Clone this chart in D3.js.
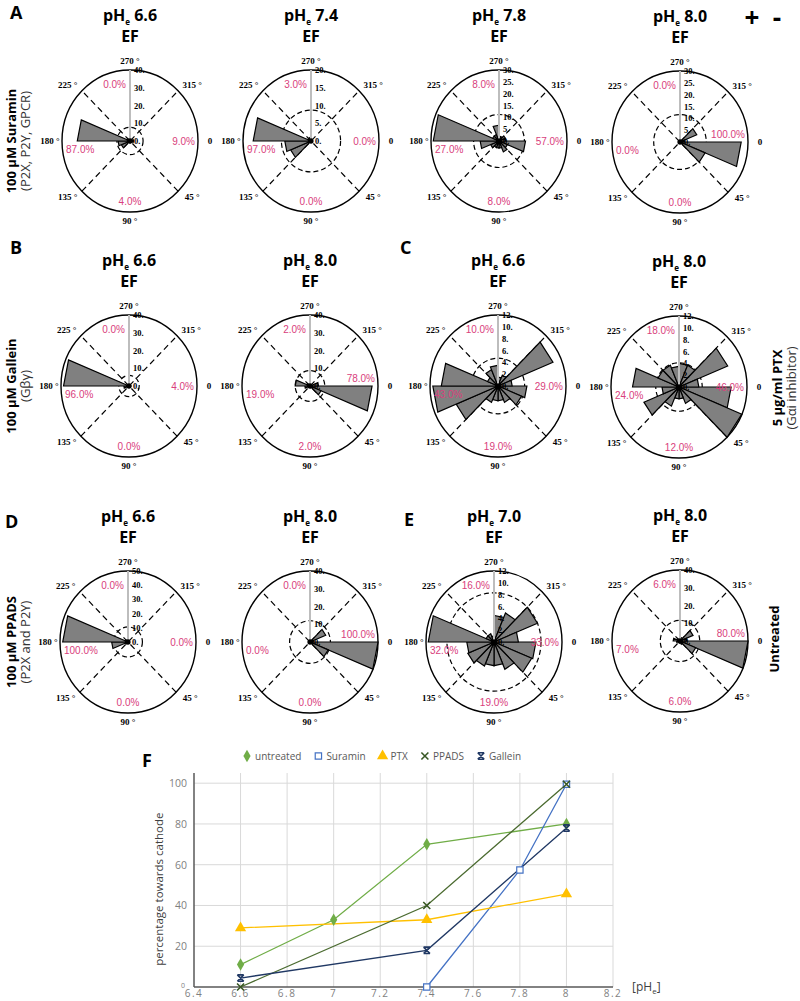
<!DOCTYPE html>
<html>
<head>
<meta charset="utf-8">
<script src="https://cdn.jsdelivr.net/npm/d3@7"></script>
<style>
  body { margin: 0; background: #fff; }
  svg { display: block; }
</style>
</head>
<body>
<svg id="fig" width="800" height="1001"></svg>
<script>
// ----- Rose diagrams (16 bins of 22.5°, bin k starts at k*22.5°, 0° = right, 90° = down) -----
const rosePh    = ["6.6", "7.4", "7.8", "8.0", "6.6", "8.0", "6.6", "8.0", "6.6", "8.0", "7.0", "8.0"];
const roseMax   = [40, 20, 30, 30, 40, 40, 12, 12, 50, 40, 12, 40];
const roseStep  = [10, 5, 5, 5, 10, 10, 2, 2, 10, 10, 2, 10];
const roseRef   = [7.7, 8.7, 11.2, 11.6, 6, 8.7, 4.7, 4.1, 10.6, 12, 8.3, 11.6];   // dashed ring
const roseCounts = [
  [2, 1, 1, 0, 1, 0, 5.5, 7, 31, 2, 0, 0, 0, 0, 0, 2],
  [0, 0, 0, 0, 0, 0, 6.5, 7.7, 17, 1, 1, 0, 0, 0, 0, 0],
  [11.7, 4, 5, 3, 3, 3, 4, 8.3, 29, 3, 3, 6.7, 2, 2, 3, 3],
  [27, 12, 0, 0, 0, 0, 0, 0, 0, 0, 0, 0, 0, 0, 8, 2],
  [1, 0, 0, 0, 0, 0, 1, 3, 38.5, 1, 0, 0, 0, 0, 0, 1],
  [36.5, 7, 1, 0, 0, 0, 1, 3, 8.7, 2, 0, 0, 1, 0, 0, 5],
  [5.1, 4.5, 3, 2.5, 2.5, 3, 8, 11.5, 10, 2, 3, 3.5, 1.5, 2, 10.5, 2.5],
  [9.2, 12, 3, 2, 2, 3.5, 6.7, 3, 8.2, 4, 4, 3.5, 4, 4, 9.3, 3.5],
  [0, 0, 0, 0, 0, 1, 2, 12, 48, 2, 0, 0, 0, 0, 0, 0],
  [40, 11.6, 0, 0, 0, 0, 0, 0, 0, 0, 0, 0, 0, 0, 10, 2],
  [7.4, 7.2, 5, 4, 4, 4.4, 5, 4.8, 11.6, 1.5, 1.5, 1, 4.5, 5.3, 8.3, 4.3],
  [40, 10, 2, 1, 1, 1, 1, 2, 4, 2, 1, 1, 2, 1, 8.3, 4]
];
// quadrant percentages: top, right, bottom, left
const rosePct = [
  ["0.0%", "9.0%", "4.0%", "87.0%"],
  ["3.0%", "0.0%", "0.0%", "97.0%"],
  ["8.0%", "57.0%", "8.0%", "27.0%"],
  ["0.0%", "100.0%", "0.0%", "0.0%"],
  ["0.0%", "4.0%", "0.0%", "96.0%"],
  ["2.0%", "78.0%", "2.0%", "19.0%"],
  ["10.0%", "29.0%", "19.0%", "43.0%"],
  ["18.0%", "46.0%", "12.0%", "24.0%"],
  ["0.0%", "0.0%", "0.0%", "100.0%"],
  ["0.0%", "100.0%", "0.0%", "0.0%"],
  ["16.0%", "33.0%", "19.0%", "32.0%"],
  ["6.0%", "80.0%", "6.0%", "7.0%"]
];
const degAngles = [0, 45, 90, 135, 180, 225, 270, 315];
const degLabels = ["0", "45 °", "90 °", "135 °", "180 °", "225 °", "270 °", "315 °"];

// ----- Panel F line chart -----
const phTicks = [6.4, 6.6, 6.8, 7, 7.2, 7.4, 7.6, 7.8, 8, 8.2];
const phTickLabels = ["6.4", "6.6", "6.8", "7", "7.2", "7.4", "7.6", "7.8", "8", "8.2"];
const pctTicks = [0, 20, 40, 60, 80, 100];
const seriesNames = ["untreated", "Suramin", "PTX", "PPADS", "Gallein"];
const untreatedPh = [6.6, 7.0, 7.4, 8.0], untreatedVal = [11, 33, 70, 80];
const suraminPh   = [7.4, 7.8, 8.0],      suraminVal   = [0, 57.4, 99.5];
const ptxPh       = [6.6, 7.4, 8.0],      ptxVal       = [29, 33, 45.6];
const ppadsPh     = [6.6, 7.4, 8.0],      ppadsVal     = [0, 40, 99.5];
const galleinPh   = [6.6, 7.4, 8.0],      galleinVal   = [4.4, 18, 78];

// ----- layout -----
const RX = 68, RY = 71;
const roseLayout = [
  [130, 141], [311, 141], [499, 141], [680, 142],
  [129, 386], [310, 386], [498, 386], [679, 387],
  [128, 642], [310, 642], [494, 642], [680, 641]
];
const SERIF = "'Liberation Serif', 'DejaVu Serif', serif";
const SANS = "'Open Sans', 'Liberation Sans', sans-serif";
const PINK = "#d9407c";

const svg = d3.select("#fig");

function drawRose(i) {
  const [cx, cy] = roseLayout[i];
  const g = svg.append("g").attr("transform", `translate(${cx},${cy})`);
  const geo = g.append("g").attr("transform", `scale(1,${RY / RX})`);
  const r = d3.scaleLinear().domain([0, roseMax[i]]).range([0, RX]);
  const ang = d3.scaleLinear().domain([0, 360]).range([Math.PI / 2, Math.PI / 2 + 2 * Math.PI]);
  const rad = (deg, v) => d3.pointRadial(ang(deg), r(v));

  geo.append("circle").attr("r", RX).attr("fill", "#fff")
    .attr("stroke", "#000").attr("stroke-width", 1.4)
    .attr("vector-effect", "non-scaling-stroke");

  // dashed diagonals
  [45, 135].forEach(a => {
    const p1 = rad(a, roseMax[i]), p2 = rad(a + 180, roseMax[i]);
    geo.append("line")
      .attr("x1", p1[0]).attr("y1", p1[1]).attr("x2", p2[0]).attr("y2", p2[1])
      .attr("stroke", "#000").attr("stroke-width", 1.2).attr("stroke-dasharray", "6,4")
      .attr("vector-effect", "non-scaling-stroke");
  });
  geo.append("circle").attr("r", r(roseRef[i])).attr("fill", "none")
    .attr("stroke", "#000").attr("stroke-width", 1.2).attr("stroke-dasharray", "5,3")
    .attr("vector-effect", "non-scaling-stroke");

  // wedges (MATLAB-style triangles)
  const wedge = d3.lineRadial()
    .angle(d => ang(d[0])).radius(d => r(d[1]))
    .curve(d3.curveLinearClosed);
  roseCounts[i].forEach((c, k) => {
    if (c <= 0) return;
    geo.append("path")
      .attr("d", wedge([[0, 0], [k * 22.5, c], [(k + 1) * 22.5, c]]))
      .attr("fill", "#808080").attr("stroke", "#000").attr("stroke-width", 1.2)
      .attr("stroke-linejoin", "miter")
      .attr("vector-effect", "non-scaling-stroke");
  });

  // radial axis toward 270°
  const top = rad(270, roseMax[i]);
  geo.append("line").attr("x1", 0).attr("y1", 0).attr("x2", top[0]).attr("y2", top[1])
    .attr("stroke", "#bdbdbd").attr("stroke-width", 2)
    .attr("vector-effect", "non-scaling-stroke");
  geo.append("circle").attr("r", 2.6).attr("fill", "#000");

  d3.range(0, roseMax[i] + 0.001, roseStep[i]).forEach(v => {
    g.append("text")
      .attr("x", 4).attr("y", -r(v) * RY / RX)
      .attr("dominant-baseline", "central")
      .attr("font-family", SERIF).attr("font-weight", "bold").attr("font-size", 8.5)
      .text(v + ".");
  });

  // degree labels
  degAngles.forEach((a, j) => {
    const diag = a % 90 !== 0;
    const t = a * Math.PI / 180;
    g.append("text")
      .attr("x", Math.cos(t) * (RX + (diag ? 20 : 12)))
      .attr("y", Math.sin(t) * (RY + (diag ? 8 : 9)))
      .attr("text-anchor", "middle").attr("dominant-baseline", "central")
      .attr("font-family", SERIF).attr("font-weight", "bold").attr("font-size", 9)
      .attr("fill", "#000")
      .text(degLabels[j]);
  });

  // quadrant percentages
  const pct = rosePct[i];
  const pctText = (x, y, anchor, s) => g.append("text")
    .attr("x", x).attr("y", y).attr("text-anchor", anchor)
    .attr("dominant-baseline", "central")
    .attr("font-family", "'Liberation Sans', Arial, sans-serif").attr("font-size", 10)
    .attr("fill", PINK).text(s);
  pctText(-4, -57, "end", pct[0]);
  pctText(65, parseFloat(pct[1]) > 70 ? -8 : 0, "end", pct[1]);
  pctText(0, 60, "middle", pct[2]);
  pctText(-64, 8, "start", pct[3]);

  // title
  const title = svg.append("text")
    .attr("x", cx).attr("y", cy - 120).attr("text-anchor", "middle")
    .attr("font-family", SANS).attr("font-weight", "bold").attr("font-size", 16);
  title.append("tspan").text("pH");
  title.append("tspan").attr("font-size", 8).attr("dy", 4).text("e");
  title.append("tspan").attr("dy", -4).text(" " + rosePh[i]);
  svg.append("text")
    .attr("x", cx).attr("y", cy - 99).attr("text-anchor", "middle")
    .attr("font-family", SANS).attr("font-weight", "bold").attr("font-size", 16)
    .text("EF");
}
d3.range(roseCounts.length).forEach(drawRose);

// ----- panel letters and side labels -----
[["A", 10, 19], ["B", 10, 254], ["C", 400, 254], ["D", 5, 528], ["E", 404, 526], ["F", 142, 767]]
  .forEach(([s, x, y]) => svg.append("text").attr("x", x).attr("y", y)
    .attr("font-family", SANS).attr("font-weight", "bold").attr("font-size", 18).text(s));

svg.append("text").attr("x", 752).attr("y", 27).attr("text-anchor", "middle")
  .attr("font-family", SANS).attr("font-weight", "bold").attr("font-size", 26).text("+");
svg.append("text").attr("x", 777).attr("y", 27).attr("text-anchor", "middle")
  .attr("font-family", SANS).attr("font-weight", "bold").attr("font-size", 26).text("-");

function sideLabel(x, y, bold, sub) {
  svg.append("text").attr("transform", `translate(${x},${y}) rotate(-90)`)
    .attr("text-anchor", "middle").attr("font-family", SANS)
    .attr("font-weight", "bold").attr("font-size", 13).text(bold);
  if (sub) svg.append("text").attr("transform", `translate(${x + 14},${y}) rotate(-90)`)
    .attr("text-anchor", "middle").attr("font-family", SANS)
    .attr("font-size", 13).attr("fill", "#333").text(sub);
}
sideLabel(16, 141, "100 µM Suramin", "(P2X, P2Y, GPCR)");
sideLabel(16, 386, "100 µM Gallein", "(Gβγ)");
sideLabel(16, 642, "100 µM PPADS", "(P2X and P2Y)");
sideLabel(782, 388, "5 µg/ml PTX", "(Gαi inhibitor)");
sideLabel(779, 639, "Untreated", null);

// ----- panel F -----
const x = d3.scaleLinear().domain([6.4, 8.2]).range([194, 613]);
const y = d3.scaleLinear().domain([0, 105]).range([987, 773]);
const F = svg.append("g");

F.append("g").selectAll("line").data(phTicks.slice(1)).join("line")
  .attr("x1", d => x(d)).attr("x2", d => x(d)).attr("y1", y(105)).attr("y2", y(0))
  .attr("stroke", "#d9d9d9").attr("stroke-width", 1);
F.append("g").selectAll("line").data(pctTicks.slice(1)).join("line")
  .attr("x1", x(6.4)).attr("x2", x(8.2)).attr("y1", d => y(d)).attr("y2", d => y(d))
  .attr("stroke", "#d9d9d9").attr("stroke-width", 1);
F.append("line").attr("x1", x(6.4)).attr("x2", x(6.4)).attr("y1", y(105)).attr("y2", y(0))
  .attr("stroke", "#595959").attr("stroke-width", 1.5);
F.append("line").attr("x1", x(6.4)).attr("x2", x(8.2)).attr("y1", y(0)).attr("y2", y(0))
  .attr("stroke", "#595959").attr("stroke-width", 1.5);

F.append("g").selectAll("text").data(phTicks).join("text")
  .attr("x", d => x(d)).attr("y", 997).attr("text-anchor", "middle")
  .attr("font-family", SANS).attr("font-size", 10).attr("letter-spacing", 1.5)
  .attr("fill", "#7f7f7f").text((d, i) => phTickLabels[i]);
F.append("g").selectAll("text").data(pctTicks).join("text")
  .attr("x", d => d === 0 ? 185 : 187).attr("y", d => d === 0 ? y(d) - 2 : y(d)).attr("text-anchor", "end")
  .attr("dominant-baseline", "central")
  .attr("font-family", SANS).attr("font-size", d => d === 0 ? 7 : 10.5)
  .attr("fill", "#7f7f7f").text(d => d);

F.append("text").attr("transform", `translate(163,${y(48)}) rotate(-90)`)
  .attr("text-anchor", "middle").attr("font-family", SANS).attr("font-size", 11.5)
  .attr("fill", "#404040").text("percentage towards cathode");
const xl = F.append("text").attr("x", 632).attr("y", 991)
  .attr("font-family", SANS).attr("font-size", 12).attr("fill", "#404040");
xl.append("tspan").text("[pH");
xl.append("tspan").attr("font-size", 8).attr("dy", 3).text("e");
xl.append("tspan").attr("dy", -3).text("]");

const timesPath = s => `M${-s},${-s}L${s},${s}M${-s},${s}L${s},${-s}`;
const galleinPath = s => `M${-s},${-s}L${s},${s}M${-s},${s}L${s},${-s}M${-s},${-s}L${s},${-s}M${-s},${s}L${s},${s}`;
const markers = [
  { color: "#70ad47", line: "#70ad47", draw: sel => sel.attr("d", d3.symbol(d3.symbolDiamond, 45)()).attr("fill", "#70ad47") },
  { color: "#4472c4", line: "#4472c4", draw: sel => sel.attr("d", d3.symbol(d3.symbolSquare, 40)()).attr("fill", "#fff").attr("stroke", "#4472c4").attr("stroke-width", 1.2) },
  { color: "#ffc000", line: "#ffc000", draw: sel => sel.attr("d", d3.symbol(d3.symbolTriangle, 55)()).attr("fill", "#ffc000") },
  { color: "#385723", line: "#4b6b30", draw: sel => sel.attr("d", timesPath(3.5)).attr("fill", "none").attr("stroke", "#385723").attr("stroke-width", 1.6) },
  { color: "#203864", line: "#203864", draw: sel => sel.attr("d", galleinPath(3.2)).attr("fill", "none").attr("stroke", "#203864").attr("stroke-width", 1.6) }
];
const series = [
  [untreatedPh, untreatedVal], [suraminPh, suraminVal], [ptxPh, ptxVal],
  [ppadsPh, ppadsVal], [galleinPh, galleinVal]
];
const line = d3.line().x(d => x(d[0])).y(d => y(d[1]));
series.forEach(([ph, val], s) => {
  const pts = ph.map((p, i) => [p, val[i]]);
  F.append("path").attr("d", line(pts)).attr("fill", "none")
    .attr("stroke", markers[s].line).attr("stroke-width", 1.3);
});
series.forEach(([ph, val], s) => {
  const pts = ph.map((p, i) => [p, val[i]]);
  F.append("g").selectAll("path").data(pts).join("path")
    .attr("transform", d => `translate(${x(d[0])},${y(d[1])})`)
    .call(markers[s].draw);
});

// legend
let lx = 247;
seriesNames.forEach((name, s) => {
  F.append("path").attr("transform", `translate(${lx},756)`).call(markers[s].draw);
  const t = F.append("text").attr("x", lx + 8).attr("y", 760)
    .attr("font-family", SANS).attr("font-size", 10).attr("fill", "#595959").text(name);
  lx += 8 + t.node().getComputedTextLength() + 17;
});
</script>
</body>
</html>
